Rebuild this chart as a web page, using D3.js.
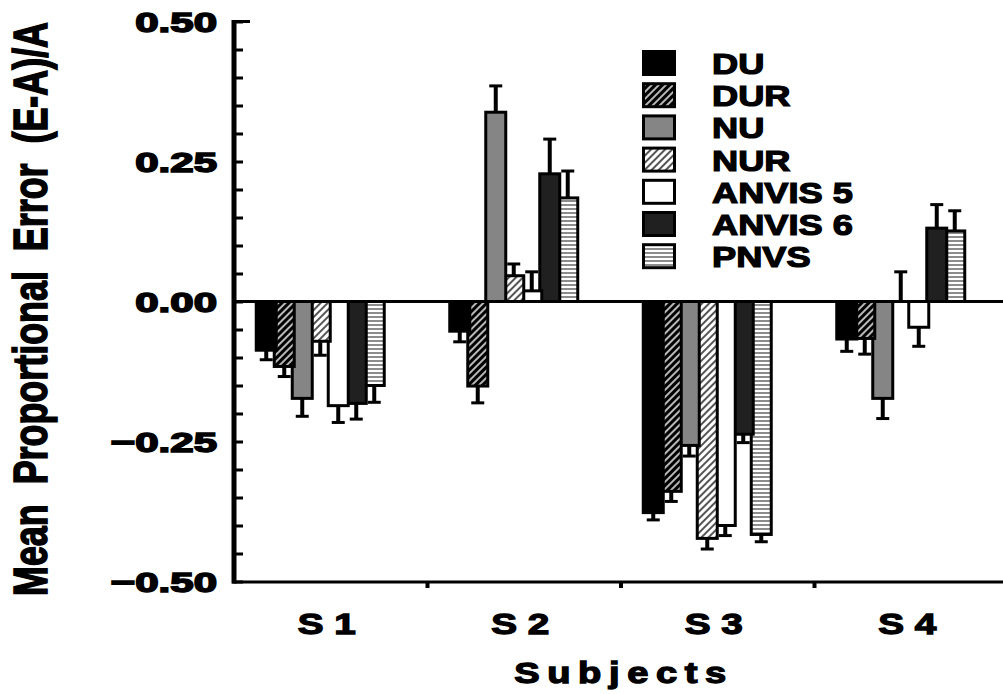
<!DOCTYPE html>
<html>
<head>
<meta charset="utf-8">
<script src="https://cdn.jsdelivr.net/npm/d3@7"></script>
<style>
  body { margin: 0; background: #fff; }
  text { font-family: "Liberation Sans", Arial, sans-serif; font-weight: bold; fill: #000; stroke: #000; stroke-width: 1; }
</style>
</head>
<body>
<svg id="chart" width="1003" height="694"></svg>
<script>
// subjects on the x axis and the seven display conditions
var subjects = ["S 1", "S 2", "S 3", "S 4"];
var series = ["DU", "DUR", "NU", "NUR", "ANVIS 5", "ANVIS 6", "PNVS"];

// mean proportional error per subject (S1..S4)
var du      = [-0.087, -0.053, -0.377, -0.067];
var dur     = [-0.116, -0.151, -0.339, -0.066];
var nu      = [-0.173,  0.338, -0.257, -0.173];
var nur     = [-0.071,  0.046, -0.423,  0.000];
var anvis5  = [-0.186,  0.019, -0.400, -0.046];
var anvis6  = [-0.182,  0.228, -0.237,  0.131];
var pnvs    = [-0.150,  0.185, -0.416,  0.126];

// one-sided error bars (away from zero)
var duErr     = [0.017, 0.019, 0.013, 0.022];
var durErr    = [0.018, 0.030, 0.018, 0.028];
var nuErr     = [0.032, 0.047, 0.019, 0.036];
var nurErr    = [0.025, 0.021, 0.019, 0.053];
var anvis5Err = [0.030, 0.034, 0.018, 0.034];
var anvis6Err = [0.028, 0.062, 0.015, 0.042];
var pnvsErr   = [0.030, 0.048, 0.013, 0.036];

var yTicks = [0.50, 0.25, 0.00, -0.25, -0.50];

var values = [du, dur, nu, nur, anvis5, anvis6, pnvs];
var errors = [duErr, durErr, nuErr, nurErr, anvis5Err, anvis6Err, pnvsErr];

var svg = d3.select("#chart");

// patterns for the hatched / striped bars
var defs = svg.append("defs");

function diag(id, bg, fg) {
    var p = defs.append("pattern")
        .attr("id", id)
        .attr("patternUnits", "userSpaceOnUse")
        .attr("width", 5).attr("height", 5)
        .attr("patternTransform", "rotate(45)");
    p.append("rect").attr("width", 5).attr("height", 5).attr("fill", bg);
    p.append("rect").attr("width", 2).attr("height", 5).attr("fill", fg);
}
diag("dur", "#000", "#b8b8b8");
diag("nur", "#fff", "#555");

var stripes = defs.append("pattern")
    .attr("id", "pnvs")
    .attr("patternUnits", "userSpaceOnUse")
    .attr("width", 4).attr("height", 4);
stripes.append("rect").attr("width", 4).attr("height", 4).attr("fill", "#fff");
stripes.append("rect").attr("width", 4).attr("height", 2).attr("fill", "#8c8c8c");

var fills = d3.scaleOrdinal()
    .domain(series)
    .range(["#000", "url(#dur)", "#858585", "url(#nur)", "#fff", "#202020", "url(#pnvs)"]);

// scales
var y = d3.scaleLinear().domain([-0.5, 0.5]).range([581.5, 21.5]);

var x = d3.scaleBand().domain(subjects).range([234, 1008]).padding(0);

// bars sit a little left of the band centre, 18px apart, 23px wide
var inner = d3.scaleBand().domain(series).range([-73.5, 52.5]).padding(0);
var barW = 23;

function cx(s, k) {
    return x(subjects[s]) + x.bandwidth() / 2 + inner(series[k]) + inner.bandwidth() / 2;
}

// flatten to one record per bar
var bars = [];
series.forEach(function (name, k) {
    subjects.forEach(function (sub, s) {
        bars.push({ k: k, s: s, name: name, v: values[k][s], e: errors[k][s] });
    });
});

// draw last series first so earlier bars overlap later ones
bars.sort(function (a, b) { return b.k - a.k; });

var g = svg.append("g");

bars.forEach(function (d) {
    var c = cx(d.s, d.k);
    var y0 = y(0), y1 = y(d.v);
    var tip = d.v >= 0 ? d.v + d.e : d.v - d.e;

    // error bar
    g.append("line")
        .attr("x1", c).attr("x2", c)
        .attr("y1", y1).attr("y2", y(tip))
        .attr("stroke", "#000").attr("stroke-width", 4);
    g.append("line")
        .attr("x1", c - 6.5).attr("x2", c + 6.5)
        .attr("y1", y(tip)).attr("y2", y(tip))
        .attr("stroke", "#000").attr("stroke-width", 3);

    if (Math.abs(y1 - y0) > 0.5) {
        g.append("rect")
            .attr("x", c - barW / 2 + 1.5)
            .attr("y", Math.min(y0, y1))
            .attr("width", barW - 3)
            .attr("height", Math.abs(y1 - y0))
            .attr("fill", fills(d.name))
            .attr("stroke", "#000")
            .attr("stroke-width", 3);
    }
});

// zero line
svg.append("line")
    .attr("x1", 234).attr("x2", 1003)
    .attr("y1", y(0)).attr("y2", y(0))
    .attr("stroke", "#000").attr("stroke-width", 3);

// left axis with inward ticks every 0.05
var yAxis = d3.axisRight(y)
    .tickValues(d3.range(-0.5, 0.5001, 0.05))
    .tickSize(9)
    .tickFormat("");
svg.append("g")
    .attr("transform", "translate(234,0)")
    .call(yAxis)
    .call(function (a) {
        a.select(".domain").remove();
        a.selectAll("line").attr("stroke", "#000").attr("stroke-width", 3);
    });

svg.append("line")
    .attr("x1", 234).attr("x2", 234)
    .attr("y1", y(0.5) - 1.5).attr("y2", y(-0.5) + 2)
    .attr("stroke", "#000").attr("stroke-width", 5);
svg.append("line")
    .attr("x1", 234).attr("x2", 250)
    .attr("y1", y(0.5)).attr("y2", y(0.5))
    .attr("stroke", "#000").attr("stroke-width", 3);

// y tick labels
svg.selectAll(".ylab")
    .data(yTicks)
    .enter().append("text")
    .attr("class", "ylab")
    .attr("text-anchor", "end")
    .attr("font-size", 28)
    .style("stroke-width", 1.6)
    .attr("transform", function (d) {
        return "translate(217," + (y(d) + 10) + ") scale(1.5,1)";
    })
    .text(function (d) { return d3.format(".2f")(d); });

// bottom axis
svg.append("line")
    .attr("x1", 232).attr("x2", 1003)
    .attr("y1", 582).attr("y2", 582)
    .attr("stroke", "#000").attr("stroke-width", 3);

svg.selectAll(".xtick")
    .data(subjects.slice(1))
    .enter().append("line")
    .attr("x1", function (d) { return x(d); })
    .attr("x2", function (d) { return x(d); })
    .attr("y1", 582).attr("y2", 588)
    .attr("stroke", "#000").attr("stroke-width", 4);

svg.selectAll(".xlab")
    .data(subjects)
    .enter().append("text")
    .attr("class", "xlab")
    .attr("text-anchor", "middle")
    .attr("font-size", 30)
    .style("stroke-width", 1.3)
    .attr("transform", function (d) {
        return "translate(" + (x(d) + x.bandwidth() / 2 - 4) + ",634) scale(1.29,1)";
    })
    .style("white-space", "pre")
    .text(function (d) { return d; });

// axis titles
svg.append("text")
    .attr("text-anchor", "middle")
    .attr("font-size", 30)
    .attr("letter-spacing", 6)
    .style("stroke-width", 1.3)
    .attr("transform", "translate(624,683) scale(1.27,1)")
    .text("Subjects");

svg.append("text")
    .attr("text-anchor", "middle")
    .attr("font-size", 36)
    .attr("textLength", 574)
    .attr("lengthAdjust", "spacingAndGlyphs")
    .style("white-space", "pre")
    .style("stroke-width", 1.2)
    .attr("transform", "translate(47,309) scale(1.32,1) rotate(-90)")
    .text("Mean  Proportional  Error  (E-A)/A");

// legend
var ly = d3.scaleBand().domain(series).range([50, 50 + 7 * 32.2]);

var legend = svg.append("g");
legend.selectAll("rect")
    .data(series)
    .enter().append("rect")
    .attr("x", 643.5)
    .attr("y", function (d) { return ly(d) + 1.5; })
    .attr("width", 31)
    .attr("height", 23)
    .attr("fill", function (d) { return fills(d); })
    .attr("stroke", "#000")
    .attr("stroke-width", 3);

legend.selectAll("text")
    .data(series)
    .enter().append("text")
    .attr("font-size", 29)
    .style("white-space", "pre")
    .style("stroke-width", 1.2)
    .attr("transform", function (d) {
        return "translate(712," + (ly(d) + 24) + ") scale(1.25,1)";
    })
    .text(function (d) { return d; });
</script>
</body>
</html>
